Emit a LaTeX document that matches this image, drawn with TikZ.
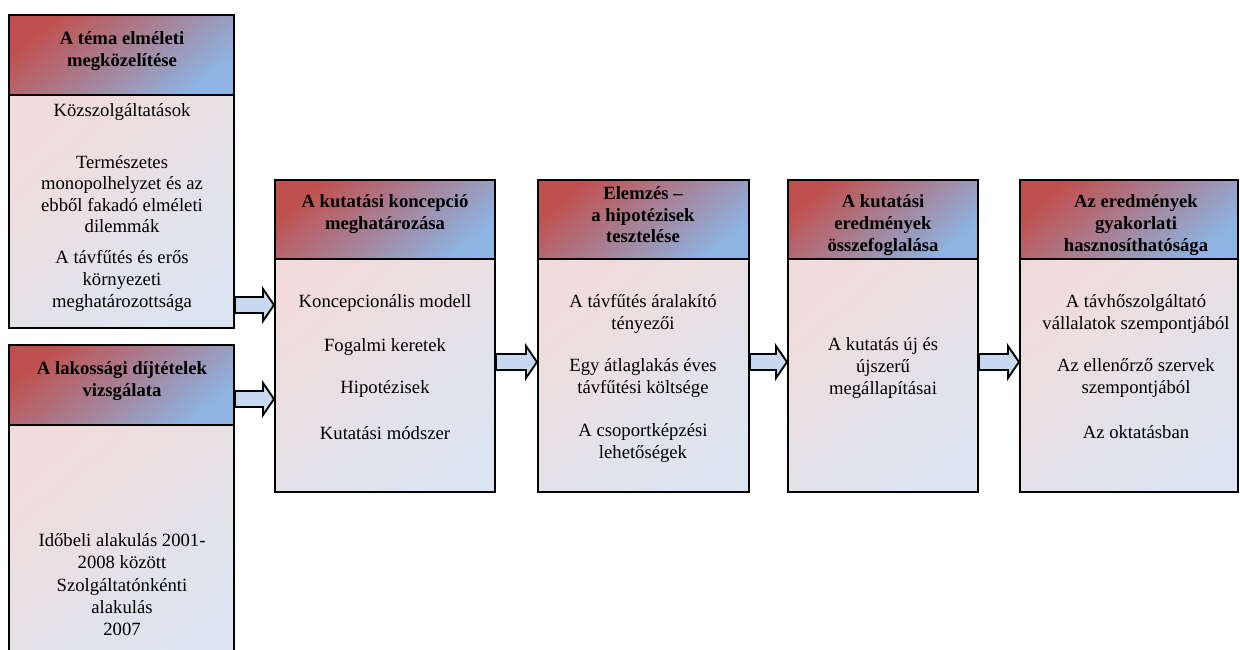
\documentclass[tikz,border=0pt]{standalone}
\usepackage{fontspec}
\setmainfont{Liberation Serif}
\usetikzlibrary{fit,calc}
\definecolor{hdred}{HTML}{C0504D}
\definecolor{hdblue}{HTML}{8DB4E2}
\definecolor{bdpink}{HTML}{F2DCDB}
\definecolor{bdblue}{HTML}{DBE5F1}
\definecolor{arrfill}{HTML}{C6D9F1}
\newcommand\blkarrow[3]{%
  \path (#1.east |- 0,#3) coordinate (as) (#2.west |- 0,#3) coordinate (ae);
  \draw[blkarr] ($(as)+(0,-8)$) -- ($(ae)+(-11,-8)$) -- ($(ae)+(-11,-16)$) -- (ae)
    -- ($(ae)+(-11,16)$) -- ($(ae)+(-11,8)$) -- ($(as)+(0,8)$) -- cycle;}
\begin{document}
\begin{tikzpicture}[x=0.75pt,y=-0.75pt,
  hdr/.style={inner sep=0pt, top color=hdred, bottom color=hdblue, shading angle=40, draw=black, line width=1.5pt},
  bdy/.style={inner sep=0pt, top color=bdpink, bottom color=bdblue, shading angle=40, draw=black, line width=1.5pt},
  htxt/.style={font=\fontsize{14}{16.2}\selectfont\bfseries, align=center, inner sep=0pt},
  btxt/.style={font=\fontsize{14}{16.2}\selectfont, align=center, inner sep=0pt},
  blkarr/.style={draw=black, fill=arrfill, line width=1.4pt, line join=miter}]
\useasboundingbox (0,0) rectangle (1240,650);
\clip (0,0) rectangle (1240,650);
\fill[white] (0,0) rectangle (1240,650);

% box 1
\node[bdy, fit={(9,95) (234,328)}] (d1) {};
\node[hdr, fit={(9,15) (234,95)}] (h1) {};
\node[htxt] (h1t) at (122,51) {A téma elméleti\\megközelítése};
\node[btxt] (d1a) at (122,112) {Közszolgáltatások};
\node[btxt] (d1b) at (122,194) {Természetes\\monopolhelyzet és az\\ebből fakadó elméleti\\dilemmák};
\node[btxt] (d1c) at (122,281) {A távfűtés és erős\\környezeti\\meghatározottsága};

% box 2
\node[bdy, fit={(9,425) (234,662)}] (d2) {};
\node[hdr, fit={(9,345) (234,425)}] (h2) {};
\node[htxt] (h2t) at (122,381) {A lakossági díjtételek\\vizsgálata};
\node[btxt] (d2a) at (122,551) {Időbeli alakulás 2001-\\2008 között};
\node[btxt] (d2b) at (122,607) {Szolgáltatónkénti\\alakulás\\2007};

% box 3
\node[bdy, fit={(275,259) (495,492)}] (d3) {};
\node[hdr, fit={(275,180) (495,259)}] (h3) {};
\node[htxt] (h3t) at (385,214) {A kutatási koncepció\\meghatározása};
\node[btxt] (d3a) at (385,303) {Koncepcionális modell};
\node[btxt] (d3b) at (385,347) {Fogalmi keretek};
\node[btxt] (d3c) at (385,389) {Hipotézisek};
\node[btxt] (d3d) at (385,433) {Kutatási módszer};

% box 4
\node[bdy, fit={(538,259) (749,492)}] (d4) {};
\node[hdr, fit={(538,180) (749,259)}] (h4) {};
\node[htxt] (h4t) at (643,215) {Elemzés –\\a hipotézisek\\tesztelése};
\node[btxt] (d4a) at (643,314) {A távfűtés áralakító\\tényezői};
\node[btxt] (d4b) at (643,378) {Egy átlaglakás éves\\távfűtési költsége};
\node[btxt] (d4c) at (643,443) {A csoportképzési\\lehetőségek};

% box 5
\node[bdy, fit={(788,259) (978,492)}] (d5) {};
\node[hdr, fit={(788,180) (978,259)}] (h5) {};
\node[htxt] (h5t) at (883,225) {A kutatási\\eredmények\\összefoglalása};
\node[btxt] (d5a) at (883,368) {A kutatás új és\\újszerű\\megállapításai};

% box 6
\node[bdy, fit={(1020,259) (1238,492)}] (d6) {};
\node[hdr, fit={(1020,180) (1238,259)}] (h6) {};
\node[htxt] (h6t) at (1136,225) {Az eredmények\\gyakorlati\\hasznosíthatósága};
\node[btxt] (d6a) at (1136,314) {A távhőszolgáltató\\vállalatok szempontjából};
\node[btxt] (d6b) at (1136,378) {Az ellenőrző szervek\\szempontjából};
\node[btxt] (d6c) at (1136,432) {Az oktatásban};

% arrows
\blkarrow{d1}{d3}{305}
\blkarrow{h2}{d3}{399}
\blkarrow{d3}{d4}{362}
\blkarrow{d4}{d5}{362}
\blkarrow{d5}{d6}{362}
\end{tikzpicture}
\end{document}
